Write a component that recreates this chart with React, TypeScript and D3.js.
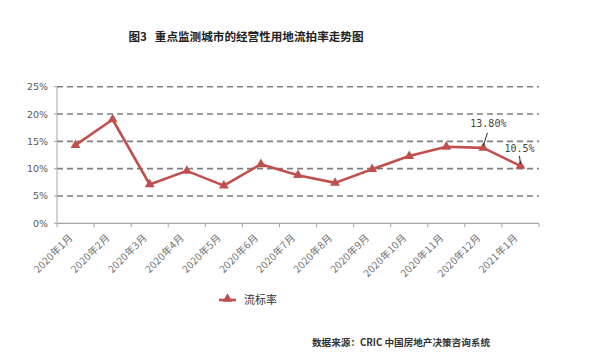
import { useRef, useEffect } from 'react'
import * as d3 from 'd3'

const months = [
  '2020年1月', '2020年2月', '2020年3月', '2020年4月', '2020年5月', '2020年6月', '2020年7月',
  '2020年8月', '2020年9月', '2020年10月', '2020年11月', '2020年12月', '2021年1月',
]
const rates = [14.3, 19.0, 7.1, 9.6, 6.9, 10.8, 8.8, 7.4, 9.9, 12.3, 14.0, 13.8, 10.5]
const yTicks = [0, 5, 10, 15, 20, 25]
const callouts = [
  { idx: 11, text: '13.80%', dx: 5, dy: -21, lx: 4, ly: -15 },
  { idx: 12, text: '10.5%', dx: -1, dy: -14, lx: -1, ly: -10 },
]

const RED = '#C0504D'
const CN = '"Noto Sans CJK SC", "DejaVu Sans", sans-serif'

export default function App() {
  const ref = useRef<SVGSVGElement>(null)

  useEffect(() => {
    const svg = d3.select(ref.current)
    svg.selectAll('*').remove()

    const left = 57, right = 539, top = 86.7, bottom = 223.3

    const x = d3.scaleBand().domain(months).range([left, right])
    const y = d3.scaleLinear().domain([0, 25]).range([bottom, top])
    const cx = (i: number) => x(months[i])! + x.bandwidth() / 2

    svg.append('text')
      .attr('x', 246).attr('y', 41)
      .attr('text-anchor', 'middle')
      .attr('font-family', CN).attr('font-weight', 'bold').attr('font-size', 11.6)
      .attr('fill', '#222')
      .text('图3\u00a0\u00a0\u00a0重点监测城市的经营性用地流拍率走势图')

    // grid
    svg.append('g').selectAll('line')
      .data(yTicks.filter((d) => d > 0))
      .join('line')
      .attr('x1', left).attr('x2', right)
      .attr('y1', (d) => y(d)).attr('y2', (d) => y(d))
      .attr('stroke', '#7f7f7f').attr('stroke-width', 1.6)
      .attr('stroke-dasharray', '6,4')

    // y axis
    svg.append('line')
      .attr('x1', left).attr('x2', left).attr('y1', top).attr('y2', bottom)
      .attr('stroke', '#a6a6a6').attr('stroke-width', 1)
    svg.append('g').selectAll('line')
      .data(yTicks)
      .join('line')
      .attr('x1', left - 3).attr('x2', left)
      .attr('y1', (d) => y(d)).attr('y2', (d) => y(d))
      .attr('stroke', '#a6a6a6')
    svg.append('g').selectAll('text')
      .data(yTicks)
      .join('text')
      .attr('x', left - 9).attr('y', (d) => y(d) + 3.5)
      .attr('text-anchor', 'end')
      .attr('font-family', 'DejaVu Sans').attr('font-size', 9.5)
      .attr('fill', '#595959')
      .text((d) => d + '%')

    // x axis
    svg.append('line')
      .attr('x1', left).attr('x2', right).attr('y1', bottom).attr('y2', bottom)
      .attr('stroke', '#a6a6a6').attr('stroke-width', 1.2)
    svg.append('g').selectAll('line')
      .data([...months.map((m) => x(m)!), right])
      .join('line')
      .attr('x1', (d) => d).attr('x2', (d) => d)
      .attr('y1', bottom).attr('y2', bottom + 4)
      .attr('stroke', '#a6a6a6')
    svg.append('g').selectAll('text')
      .data(months)
      .join('text')
      .attr('transform', (_, i) => `translate(${cx(i) - 2},${bottom + 15}) rotate(-45)`)
      .attr('text-anchor', 'end')
      .attr('font-family', CN).attr('font-size', 10)
      .attr('letter-spacing', 0.3)
      .attr('fill', '#6e6e6e')
      .text((d) => d)

    // line
    const line = d3.line<number>().x((_, i) => cx(i)).y((d) => y(d))
    svg.append('path')
      .datum(rates)
      .attr('d', line)
      .attr('fill', 'none')
      .attr('stroke', RED).attr('stroke-width', 2.6)
      .attr('stroke-linejoin', 'round')

    const tri = d3.symbol().type(d3.symbolTriangle).size(42)
    svg.append('g').selectAll('path')
      .data(rates)
      .join('path')
      .attr('transform', (d, i) => `translate(${cx(i)},${y(d)})`)
      .attr('d', tri)
      .attr('fill', RED)

    // callouts
    const cg = svg.append('g')
    callouts.forEach(({ idx, text, dx, dy, lx, ly }) => {
      const px = cx(idx), py = y(rates[idx])
      cg.append('line')
        .attr('x1', px).attr('y1', py - 2)
        .attr('x2', px + lx).attr('y2', py + ly)
        .attr('stroke', '#222').attr('stroke-width', 1)
      cg.append('text')
        .attr('x', px + dx).attr('y', py + dy)
        .attr('text-anchor', 'middle')
        .attr('font-family', 'DejaVu Sans Mono').attr('font-size', 10)
        .attr('fill', '#444')
        .text(text)
    })

    // legend
    svg.append('line')
      .attr('x1', 219).attr('x2', 236).attr('y1', 300).attr('y2', 300)
      .attr('stroke', RED).attr('stroke-width', 2.6)
    svg.append('path')
      .attr('transform', 'translate(227.5,299)')
      .attr('d', tri)
      .attr('fill', RED)
    svg.append('text')
      .attr('x', 244).attr('y', 304)
      .attr('font-family', CN).attr('font-size', 11)
      .attr('fill', '#333')
      .text('流标率')

    svg.append('text')
      .attr('x', 490).attr('y', 346)
      .attr('text-anchor', 'end')
      .attr('font-family', CN).attr('font-size', 9.6).attr('font-weight', 'bold')
      .attr('fill', '#333')
      .text('数据来源：CRIC 中国房地产决策咨询系统')
  }, [])

  return (
    <div style={{ position: 'fixed', left: 0, top: 0 }}>
      <svg ref={ref} width={600} height={362} style={{ display: 'block', background: '#fff' }} />
    </div>
  )
}
